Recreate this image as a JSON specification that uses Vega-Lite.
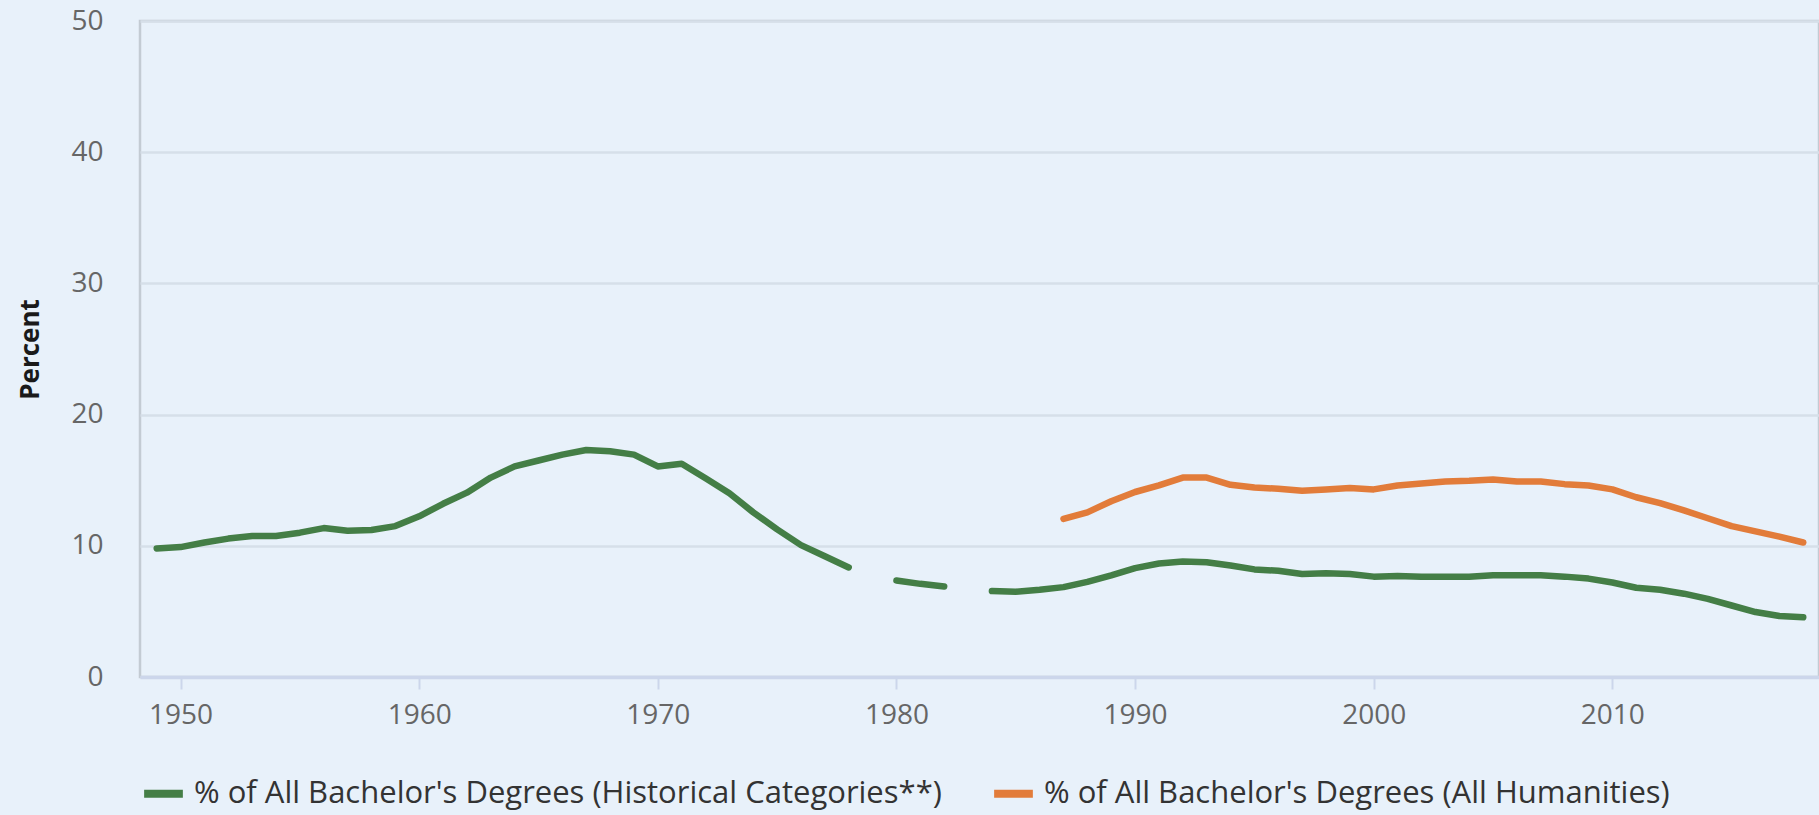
{
  "$schema": "https://vega.github.io/schema/vega-lite/v6.json",
  "width": 1679,
  "height": 656,
  "autosize": {"type": "none"},
  "padding": {"left": 140, "top": 21, "right": 0, "bottom": 138},
  "background": "#e8f1fa",
  "config": {
    "font": "Open Sans",
    "view": {"stroke": "#c3cbd3", "strokeWidth": 2.5}
  },
  "data": {
    "values": [
      {"year": 1949, "hist": 9.8, "hum": null},
      {"year": 1950, "hist": 9.9, "hum": null},
      {"year": 1951, "hist": 10.25, "hum": null},
      {"year": 1952, "hist": 10.55, "hum": null},
      {"year": 1953, "hist": 10.75, "hum": null},
      {"year": 1954, "hist": 10.75, "hum": null},
      {"year": 1955, "hist": 11.0, "hum": null},
      {"year": 1956, "hist": 11.35, "hum": null},
      {"year": 1957, "hist": 11.15, "hum": null},
      {"year": 1958, "hist": 11.2, "hum": null},
      {"year": 1959, "hist": 11.5, "hum": null},
      {"year": 1960, "hist": 12.25, "hum": null},
      {"year": 1961, "hist": 13.2, "hum": null},
      {"year": 1962, "hist": 14.05, "hum": null},
      {"year": 1963, "hist": 15.2, "hum": null},
      {"year": 1964, "hist": 16.05, "hum": null},
      {"year": 1965, "hist": 16.5, "hum": null},
      {"year": 1966, "hist": 16.95, "hum": null},
      {"year": 1967, "hist": 17.3, "hum": null},
      {"year": 1968, "hist": 17.2, "hum": null},
      {"year": 1969, "hist": 16.95, "hum": null},
      {"year": 1970, "hist": 16.05, "hum": null},
      {"year": 1971, "hist": 16.25, "hum": null},
      {"year": 1972, "hist": 15.15, "hum": null},
      {"year": 1973, "hist": 14.0, "hum": null},
      {"year": 1974, "hist": 12.55, "hum": null},
      {"year": 1975, "hist": 11.25, "hum": null},
      {"year": 1976, "hist": 10.05, "hum": null},
      {"year": 1977, "hist": 9.2, "hum": null},
      {"year": 1978, "hist": 8.35, "hum": null},
      {"year": 1979, "hist": null, "hum": null},
      {"year": 1980, "hist": 7.35, "hum": null},
      {"year": 1981, "hist": 7.1, "hum": null},
      {"year": 1982, "hist": 6.9, "hum": null},
      {"year": 1983, "hist": null, "hum": null},
      {"year": 1984, "hist": 6.55, "hum": null},
      {"year": 1985, "hist": 6.5, "hum": null},
      {"year": 1986, "hist": 6.65, "hum": null},
      {"year": 1987, "hist": 6.85, "hum": 12.05},
      {"year": 1988, "hist": 7.25, "hum": 12.55},
      {"year": 1989, "hist": 7.75, "hum": 13.4},
      {"year": 1990, "hist": 8.3, "hum": 14.1},
      {"year": 1991, "hist": 8.65, "hum": 14.6},
      {"year": 1992, "hist": 8.8, "hum": 15.2},
      {"year": 1993, "hist": 8.75, "hum": 15.2},
      {"year": 1994, "hist": 8.5, "hum": 14.65},
      {"year": 1995, "hist": 8.2, "hum": 14.45},
      {"year": 1996, "hist": 8.1, "hum": 14.35},
      {"year": 1997, "hist": 7.85, "hum": 14.2},
      {"year": 1998, "hist": 7.9, "hum": 14.3},
      {"year": 1999, "hist": 7.85, "hum": 14.4},
      {"year": 2000, "hist": 7.65, "hum": 14.3},
      {"year": 2001, "hist": 7.7, "hum": 14.6},
      {"year": 2002, "hist": 7.65, "hum": 14.75},
      {"year": 2003, "hist": 7.65, "hum": 14.9},
      {"year": 2004, "hist": 7.65, "hum": 14.95},
      {"year": 2005, "hist": 7.75, "hum": 15.05},
      {"year": 2006, "hist": 7.75, "hum": 14.9},
      {"year": 2007, "hist": 7.75, "hum": 14.9},
      {"year": 2008, "hist": 7.65, "hum": 14.7},
      {"year": 2009, "hist": 7.5, "hum": 14.6},
      {"year": 2010, "hist": 7.2, "hum": 14.3},
      {"year": 2011, "hist": 6.8, "hum": 13.7},
      {"year": 2012, "hist": 6.65, "hum": 13.25},
      {"year": 2013, "hist": 6.35, "hum": 12.7},
      {"year": 2014, "hist": 5.95, "hum": 12.1},
      {"year": 2015, "hist": 5.45, "hum": 11.5},
      {"year": 2016, "hist": 4.95, "hum": 11.1},
      {"year": 2017, "hist": 4.65, "hum": 10.7},
      {"year": 2018, "hist": 4.55, "hum": 10.25}
    ]
  },
  "transform": [
    {"fold": ["hist", "hum"], "as": ["series", "value"]}
  ],
  "mark": {
    "type": "line",
    "strokeWidth": 6.5,
    "strokeCap": "round",
    "strokeJoin": "round",
    "invalid": "break-paths-show-domains"
  },
  "encoding": {
    "x": {
      "field": "year",
      "type": "quantitative",
      "scale": {"domain": [1948.3, 2018.66], "nice": false, "zero": false},
      "axis": {
        "title": null,
        "values": [1950, 1960, 1970, 1980, 1990, 2000, 2010],
        "format": "d",
        "grid": false,
        "domainColor": "#ccd6eb",
        "domainWidth": 3.5,
        "tickColor": "#ccd6eb",
        "tickSize": 12,
        "tickWidth": 2,
        "labelFontSize": 28,
        "labelColor": "#666666",
        "labelPadding": 12
      }
    },
    "y": {
      "field": "value",
      "type": "quantitative",
      "scale": {"domain": [0, 50], "nice": false},
      "axis": {
        "title": "Percent",
        "titleFontSize": 26,
        "titleFontWeight": "bold",
        "titleColor": "#1a1a1a",
        "titlePadding": 27,
        "values": [0, 10, 20, 30, 40, 50],
        "grid": true,
        "gridColor": "#d6dfe9",
        "gridWidth": 2.5,
        "domain": false,
        "ticks": false,
        "labelFontSize": 28,
        "labelColor": "#666666",
        "labelPadding": 37
      }
    },
    "color": {
      "field": "series",
      "type": "nominal",
      "scale": {"domain": ["hist", "hum"], "range": ["#447e46", "#e27c3a"]},
      "legend": {
        "title": null,
        "orient": "none",
        "legendX": 0,
        "legendY": 749,
        "direction": "horizontal",
        "symbolType": "stroke",
        "symbolSize": 1500,
        "symbolStrokeWidth": 8,
        "labelFontSize": 31,
        "labelColor": "#333333",
        "labelOffset": 7,
        "labelLimit": 0,
        "columnPadding": 36,
        "padding": 0,
        "labelExpr": "datum.label == 'hist' ? \"% of All Bachelor's Degrees (Historical Categories**)\" : \"% of All Bachelor's Degrees (All Humanities)\""
      }
    }
  }
}
